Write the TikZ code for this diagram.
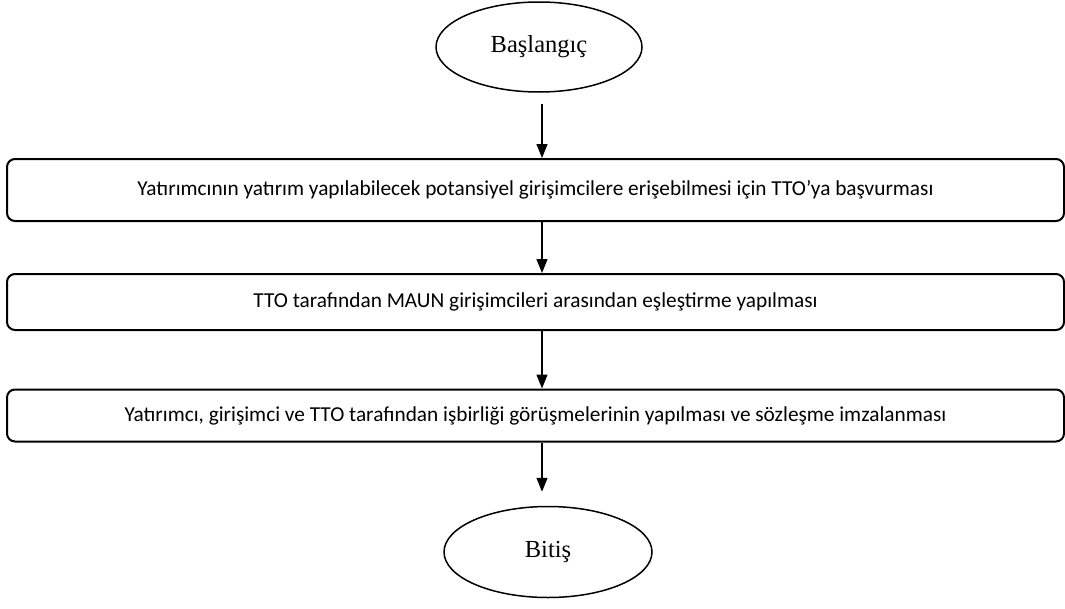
\documentclass[tikz,border=0pt]{standalone}
\usepackage{fontspec}
\setmainfont{Liberation Serif}
\newfontfamily\boxfont{Carlito}
\usetikzlibrary{shapes.geometric,arrows.meta}
\begin{document}
\begin{tikzpicture}[x=1pt,y=-1pt,
  term/.style={ellipse,draw,line width=1.5pt,inner sep=0pt,font=\fontsize{24.5}{28}\selectfont},
  procbox/.style={rectangle,draw,line width=2pt,rounded corners=8pt,minimum width=1057pt,inner sep=0pt,font=\boxfont\fontsize{21.3}{24}\selectfont},
  arr/.style={line width=1.3pt,-{Triangle[width=11pt,length=14pt]}}]
\useasboundingbox (0,0) rectangle (1065,608);
\node[term,minimum width=206pt,minimum height=90pt] (start) at (539,47) {Başlangıç};
\node[procbox,minimum height=62pt] (b1) at (535.5,190) {Yatırımcının yatırım yapılabilecek potansiyel girişimcilere erişebilmesi için TTO’ya başvurması};
\node[procbox,minimum height=56pt] (b2) at (535.5,302) {TTO tarafından MAUN girişimcileri arasından eşleştirme yapılması};
\node[procbox,minimum height=52pt] (b3) at (535.5,415.5) {Yatırımcı, girişimci ve TTO tarafından işbirliği görüşmelerinin yapılması ve sözleşme imzalanması};
\node[term,minimum width=208pt,minimum height=91pt] (end) at (548,552) {Bitiş};
\coordinate (ax) at (542,0);
\draw[arr,shorten <=11pt] (start.south -| ax) -- (b1.north -| ax);
\draw[arr] (b1.south -| ax) -- (b2.north -| ax);
\draw[arr] (b2.south -| ax) -- (b3.north -| ax);
\draw[arr,shorten >=14pt] (b3.south -| ax) -- (end.north -| ax);
\end{tikzpicture}
\end{document}
